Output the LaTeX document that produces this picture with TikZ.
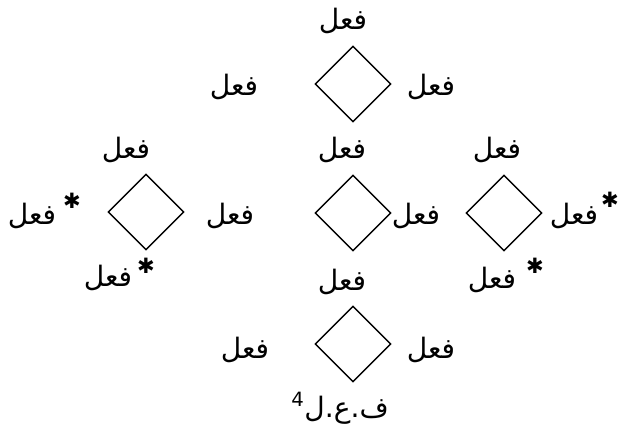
\documentclass[tikz,border=0pt]{standalone}
\usepackage{fontspec}
\usepackage{tikz}
\usetikzlibrary{shapes.geometric, positioning}
\TeXXeTstate=1
\newfontfamily\arabicfont[Script=Arabic]{DejaVu Sans}
\newfontfamily\starfont{DejaVu Sans}
\newcommand{\arword}[1]{{\arabicfont\beginR #1\endR}}

\begin{document}
\begin{tikzpicture}[x=0.025cm, y=-0.025cm,
    rhombus/.style={draw, diamond, line width=1pt, minimum width=1.9cm, minimum height=1.9cm, inner sep=0pt},
    lbl/.style={inner sep=0pt, font=\fontsize{20}{24}\selectfont},
    astr/.style={inner sep=0pt, font=\starfont\fontsize{15}{18}\selectfont}]
  \useasboundingbox (0,0) rectangle (619,440);

  % Rauten
  \node[rhombus] (dTop) at (353,84) {};
  \node[rhombus] (dLeft) at (146,212) {};
  \node[rhombus] (dMid) at (353,213) {};
  \node[rhombus] (dRight) at (504,213) {};
  \node[rhombus] (dBot) at (353,344) {};

  % obere Raute
  \node[lbl] (tTop) at (343,21) {\arword{فعل}};
  \node[lbl] (lTop) at (234,87) {\arword{فعل}};
  \node[lbl] (rTop) at (431,87) {\arword{فعل}};

  % linke Raute
  \node[lbl] (tLeft) at (126,150) {\arword{فعل}};
  \node[lbl] (lLeft) at (32,216) {\arword{فعل}};
  \node[astr] (sLeft) at (72,201) {✱};
  \node[lbl] (rLeft) at (230,216) {\arword{فعل}};
  \node[lbl] (bLeft) at (108,278) {\arword{فعل}};
  \node[astr] (sbLeft) at (146,266) {✱};

  % mittlere Raute
  \node[lbl] (tMid) at (342,150) {\arword{فعل}};
  \node[lbl] (rMid) at (416,216) {\arword{فعل}};

  % rechte Raute
  \node[lbl] (tRight) at (497,150) {\arword{فعل}};
  \node[lbl] (rRight) at (574,216) {\arword{فعل}};
  \node[astr] (sRight) at (610,200) {✱};
  \node[lbl] (bRight) at (492,280) {\arword{فعل}};
  \node[astr] (sbRight) at (535,266) {✱};

  % untere Raute
  \node[lbl] (tBot) at (342,282) {\arword{فعل}};
  \node[lbl] (lBot) at (245,350) {\arword{فعل}};
  \node[lbl] (rBot) at (431,350) {\arword{فعل}};
  \node[lbl] (root) at (340,408) {\arword{ف.ع.ل\textsuperscript{4}}};
\end{tikzpicture}
\end{document}
